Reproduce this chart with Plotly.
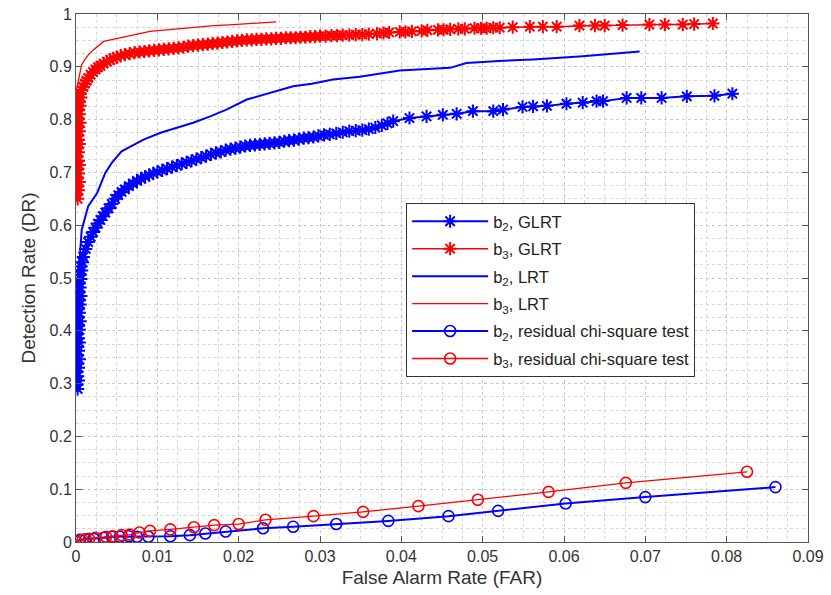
import plotly.graph_objects as go

# ---- data ----
b2_glrt_far = [0.0002,0.0001,0.0003,0.0002,0.0001,0.0003,0.0002,0.0004,0.0001,0.0003,
               0.0002,0.0004,0.0003,0.0002,0.0004,0.0003,0.0005,0.0002,0.0004,0.0003,
               0.0005,0.0004,0.0006,0.0003,0.0005,0.0004,0.0006,0.0005,0.0007,0.0006,0.0008,
               0.0009,0.0012,0.0015,0.0018,0.0021,0.0024,0.0027,0.0030,0.0033,0.0036,
               0.0040,0.0044,0.0048,0.0052,0.0056,0.0060,0.0065,0.0070,0.0075,0.0080,
               0.0085,0.0090,0.0095,0.0100,0.0106,0.0112,0.0118,0.0124,0.0130,0.0136,
               0.0142,0.0148,0.0154,0.0160,0.0166,0.0172,0.0178,0.0184,0.0190,0.0196,
               0.0202,0.0208,0.0214,0.0220,0.0226,0.0232,0.0238,0.0244,0.0250,0.0256,
               0.0262,0.0268,0.0274,0.0280,0.0286,0.0292,0.0298,0.0305,0.0312,0.0320,
               0.0328,0.0336,0.0344,0.0352,0.0360,
               0.0368,0.0376,0.0383,0.0390,
               0.0410,0.0431,0.0451,0.0468,0.0488,0.0513,0.0525,0.0549,0.0562,0.0579,
               0.0603,0.0623,0.0640,0.0648,0.0677,0.0695,0.0720,0.0751,0.0785,0.0807]
b2_glrt_dr = [0.290,0.298,0.306,0.314,0.322,0.330,0.338,0.346,0.354,0.362,
              0.370,0.378,0.386,0.394,0.402,0.410,0.418,0.426,0.434,0.442,
              0.450,0.458,0.466,0.474,0.482,0.490,0.498,0.506,0.514,0.522,0.530,
              0.540,0.555,0.568,0.578,0.587,0.595,0.603,0.610,0.617,0.624,
              0.632,0.640,0.650,0.657,0.663,0.668,0.674,0.679,0.684,0.688,
              0.692,0.695,0.698,0.701,0.704,0.707,0.710,0.713,0.716,0.719,
              0.722,0.725,0.728,0.731,0.734,0.737,0.739,0.742,0.744,0.746,
              0.748,0.750,0.751,0.752,0.753,0.754,0.755,0.756,0.757,0.759,
              0.760,0.761,0.763,0.765,0.766,0.767,0.769,0.771,0.772,0.774,
              0.776,0.778,0.779,0.780,0.782,
              0.785,0.789,0.793,0.797,
              0.803,0.806,0.809,0.811,0.816,0.816,0.819,0.824,0.825,0.826,
              0.830,0.832,0.835,0.835,0.841,0.841,0.841,0.844,0.845,0.849]

b3_glrt_far = [0.0002,0.0001,0.0003,0.0002,0.0004,0.0001,0.0003,0.0002,0.0004,0.0003,
               0.0001,0.0003,0.0002,0.0004,0.0003,0.0002,0.0004,0.0003,0.0005,0.0002,
               0.0004,0.0003,0.0005,0.0004,0.0006,0.0005,
               0.0007,0.0009,0.0011,0.0013,0.0015,0.0018,0.0021,0.0024,0.0027,0.0030,
               0.0034,0.0038,0.0042,0.0046,0.0050,0.0055,0.0060,0.0066,0.0072,0.0078,
               0.0084,0.0090,0.0096,0.0102,0.0108,0.0114,0.0120,0.0126,0.0132,0.0138,
               0.0144,0.0150,0.0156,0.0162,0.0168,0.0174,0.0180,0.0186,0.0192,0.0198,
               0.0204,0.0210,0.0216,0.0222,0.0228,0.0234,0.0240,0.0246,0.0252,0.0258,
               0.0264,0.0270,0.0276,0.0282,0.0288,0.0294,0.0300,0.0307,0.0314,0.0321,
               0.0328,0.0336,0.0344,0.0352,0.0360,
               0.0370,0.0378,0.0385,0.0398,0.0405,0.0413,0.0425,0.0432,0.0445,0.0452,
               0.0460,0.0470,0.0478,0.0490,0.0498,0.0505,0.0513,0.0521,
               0.0537,0.0558,0.0574,0.0591,0.0619,0.0638,0.0650,0.0672,0.0705,0.0724,
               0.0746,0.0760,0.0783]
b3_glrt_dr = [0.650,0.658,0.666,0.674,0.682,0.690,0.698,0.706,0.714,0.722,
              0.730,0.738,0.746,0.754,0.762,0.770,0.778,0.786,0.794,0.802,
              0.810,0.818,0.826,0.834,0.842,0.850,
              0.856,0.862,0.868,0.874,0.879,0.885,0.890,0.895,0.899,0.902,
              0.906,0.910,0.913,0.916,0.918,0.921,0.923,0.925,0.927,0.928,
              0.929,0.930,0.931,0.932,0.933,0.934,0.935,0.936,0.937,0.939,
              0.940,0.941,0.942,0.943,0.944,0.945,0.946,0.947,0.948,0.949,
              0.950,0.951,0.951,0.952,0.952,0.953,0.953,0.954,0.954,0.955,
              0.955,0.955,0.956,0.956,0.957,0.957,0.958,0.958,0.959,0.959,
              0.960,0.960,0.961,0.961,0.962,
              0.963,0.964,0.965,0.966,0.966,0.967,0.968,0.969,0.970,0.970,
              0.971,0.972,0.972,0.973,0.973,0.973,0.974,0.974,
              0.975,0.976,0.976,0.976,0.978,0.978,0.978,0.979,0.980,0.980,
              0.980,0.981,0.982]

b2_lrt_far = [0,0.0001,0.0002,0.0003,0.0005,0.0007,0.0015,0.0026,0.0036,0.0044,0.0056,0.0070,0.0083,0.0104,0.0124,
              0.0144,0.0165,0.0185,0.0210,0.0239,0.0267,0.0290,0.0316,0.0349,0.0375,0.0398,0.0460,0.0480,0.0520,
              0.0562,0.0623,0.0693]
b2_lrt_dr = [0.30,0.40,0.45,0.503,0.55,0.591,0.636,0.661,0.699,0.718,0.740,0.752,0.762,0.775,0.785,
             0.794,0.806,0.819,0.838,0.851,0.863,0.868,0.876,0.881,0.887,0.893,0.898,0.907,0.911,
             0.914,0.920,0.929]

b3_lrt_far = [0,0.0001,0.0001,0.0004,0.0007,0.0011,0.0016,0.0022,0.0034,0.0054,0.0072,0.0091,0.0118,0.0144,0.0170,
              0.0194,0.0220,0.0246]
b3_lrt_dr = [0.66,0.75,0.86,0.885,0.904,0.914,0.924,0.933,0.948,0.955,0.961,0.967,0.971,0.975,0.978,
             0.980,0.983,0.985]

b2_chi_far = [0,0.0005,0.0012,0.0022,0.0034,0.0044,0.0054,0.0065,0.0075,0.0089,0.0116,0.0140,0.0159,0.0184,0.0230,
              0.0267,0.0320,0.0384,0.0458,0.0519,0.0602,0.0700,0.0860]
b2_chi_dr = [0.001,0.004,0.005,0.006,0.008,0.010,0.010,0.011,0.010,0.010,0.011,0.013,0.016,0.020,0.026,
             0.029,0.034,0.040,0.049,0.059,0.073,0.085,0.104]

b3_chi_far = [0,0.0008,0.0016,0.0024,0.0037,0.0045,0.0056,0.0066,0.0078,0.0091,0.0116,0.0145,0.0170,0.0200,0.0233,
              0.0292,0.0353,0.0421,0.0494,0.0581,0.0676,0.0825]
b3_chi_dr = [0.001,0.004,0.006,0.008,0.010,0.011,0.013,0.014,0.018,0.021,0.024,0.028,0.032,0.034,0.042,
             0.049,0.057,0.068,0.080,0.095,0.112,0.133]

x_ticks = [0,0.01,0.02,0.03,0.04,0.05,0.06,0.07,0.08,0.09]
x_ticklabels = ["0","0.01","0.02","0.03","0.04","0.05","0.06","0.07","0.08","0.09"]
y_ticks = [0,0.1,0.2,0.3,0.4,0.5,0.6,0.7,0.8,0.9,1]
y_ticklabels = ["0","0.1","0.2","0.3","0.4","0.5","0.6","0.7","0.8","0.9","1"]

BLUE = "#0000ff"
RED = "#ff0000"

fig = go.Figure()
fig.add_trace(go.Scatter(x=b2_glrt_far, y=b2_glrt_dr, mode="lines+markers", name="b<sub>2</sub>, GLRT",
                         legendgroup="g1",
                         line=dict(color=BLUE, width=2),
                         marker=dict(symbol="asterisk-open", size=11, line=dict(color=BLUE, width=2))))
fig.add_trace(go.Scatter(x=b3_glrt_far, y=b3_glrt_dr, mode="lines+markers", name="b<sub>3</sub>, GLRT",
                         legendgroup="g2",
                         line=dict(color=RED, width=1.5),
                         marker=dict(symbol="asterisk-open", size=11, line=dict(color=RED, width=2))))
fig.add_trace(go.Scatter(x=b2_lrt_far, y=b2_lrt_dr, mode="lines", name="b<sub>2</sub>, LRT",
                         legendgroup="g3",
                         line=dict(color=BLUE, width=2)))
fig.add_trace(go.Scatter(x=b3_lrt_far, y=b3_lrt_dr, mode="lines", name="b<sub>3</sub>, LRT",
                         legendgroup="g4",
                         line=dict(color=RED, width=1.3)))
fig.add_trace(go.Scatter(x=b2_chi_far, y=b2_chi_dr, mode="lines+markers", name="b<sub>2</sub>, residual chi-square test",
                         legendgroup="g5",
                         line=dict(color=BLUE, width=2),
                         marker=dict(symbol="circle-open", size=11, line=dict(color=BLUE, width=1.6))))
fig.add_trace(go.Scatter(x=b3_chi_far, y=b3_chi_dr, mode="lines+markers", name="b<sub>3</sub>, residual chi-square test",
                         legendgroup="g6",
                         line=dict(color=RED, width=1.3),
                         marker=dict(symbol="circle-open", size=11, line=dict(color=RED, width=1.6))))

axis_common = dict(
    showline=True, linecolor="#555555", linewidth=1, mirror="ticks",
    ticks="inside", ticklen=6, tickcolor="#555555",
    showgrid=True, gridcolor="#c8c8c8", griddash="dot", gridwidth=1,
    zeroline=False, automargin=False, ticklabeloverflow="allow",
    tickfont=dict(family="Liberation Sans, Arial", size=16, color="#333333"),
)

fig.update_layout(
    width=831, height=595,
    paper_bgcolor="white", plot_bgcolor="white",
    margin=dict(l=76, r=23, t=14, b=53),
    font=dict(family="Liberation Sans, Arial", color="#333333"),
    xaxis=dict(range=[0, 0.09], tickvals=x_ticks, ticktext=x_ticklabels,
               title=dict(text="False Alarm Rate (FAR)", font=dict(size=19), standoff=6),
               minor=dict(dtick=0.0025, showgrid=True, gridcolor="#d6d6d6", griddash="dot", ticks=""),
               **axis_common),
    yaxis=dict(range=[0, 1], tickvals=y_ticks, ticktext=y_ticklabels,
               title=dict(text="Detection Rate (DR)", font=dict(size=19), standoff=8),
               minor=dict(dtick=0.025, showgrid=True, gridcolor="#d6d6d6", griddash="dot", ticks=""),
               **axis_common),
    legend=dict(x=0.451, y=0.642, xanchor="left", yanchor="top",
                bgcolor="white", bordercolor="#333333", borderwidth=1,
                font=dict(family="Liberation Sans, Arial", size=16.5, color="#222222"),
                itemwidth=76, traceorder="grouped", tracegroupgap=3),
    showlegend=True,
)

# remove the default 8 px page margin so the figure fills the window exactly
fig.write_html("out.html", config={"displayModeBar": False},
               post_script="document.body.style.margin='0';")
